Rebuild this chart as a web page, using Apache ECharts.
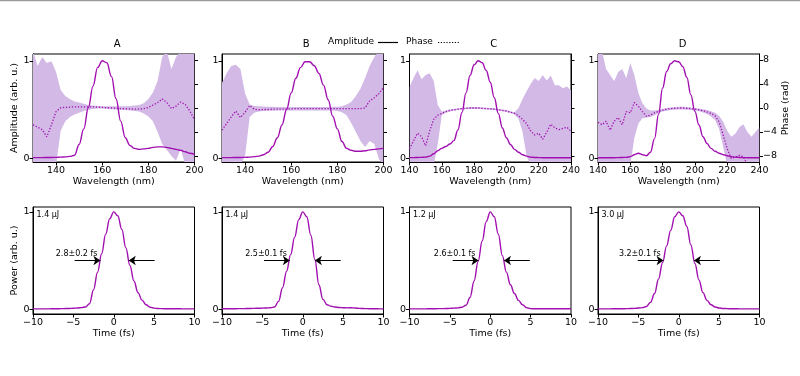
<!DOCTYPE html>
<html>
<head>
<meta charset="utf-8">
<script src="https://cdn.jsdelivr.net/npm/echarts@6/dist/echarts.min.js"></script>
<style>
  html, body { margin: 0; background: #fff; }
  #chart { width: 800px; height: 376px; }
</style>
</head>
<body>
<div id="chart"></div>
<script>
// panel names and annotation texts
const panelNames = ['A', 'B', 'C', 'D'];
const energyText = ['1.4 μJ', '1.4 μJ', '1.2 μJ', '3.0 μJ'];
const fwhmText = ['2.8±0.2 fs', '2.5±0.1 fs', '2.6±0.1 fs', '3.2±0.1 fs'];
// FWHM arrow tips (fs) and arrow length
const fwhmLeft = [-1.65, -1.6, -1.45, -1.88];
const fwhmRight = [1.86, 1.5, 1.7, 1.88];
const arrowLen = 3.2;

// tick labels
const wlTicksAB = [140, 160, 180, 200];
const wlTicksCD = [140, 160, 180, 200, 220, 240];
const ampTicks = [0, 1];
const phaseTicks = [-8, -4, 0, 4, 8];
const timeTicks = [-10, -5, 0, 5, 10];

// wavelength grids (nm)
const wlAB = [130, 132, 134, 136, 138, 140, 142, 144, 146, 148, 150, 152, 154, 156, 158, 160, 162, 164, 166, 168,
  170, 172, 174, 176, 178, 180, 182, 184, 186, 188, 190, 192, 194, 196, 198, 200];
const wlCD = [140, 142.5, 145, 147.5, 150, 152.5, 155, 157.5, 160, 162.5, 165, 167.5, 170, 172.5, 175, 177.5, 180,
  182.5, 185, 187.5, 190, 192.5, 195, 197.5, 200, 202.5, 205, 207.5, 210, 212.5, 215, 217.5, 220, 222.5, 225, 227.5,
  230, 232.5, 235, 237.5, 240];

// spectral amplitude
const ampA = [0.005, 0.005, 0.005, 0.006, 0.007, 0.008, 0.01, 0.013, 0.018, 0.03, 0.14, 0.3, 0.52, 0.74, 0.93, 1.0,
  0.98, 0.84, 0.61, 0.38, 0.21, 0.13, 0.1, 0.09, 0.095, 0.1, 0.11, 0.115, 0.115, 0.11, 0.1, 0.09, 0.08, 0.065, 0.05, 0.04];
const ampB = [0.005, 0.005, 0.005, 0.006, 0.007, 0.008, 0.01, 0.015, 0.02, 0.035, 0.06, 0.12, 0.21, 0.34, 0.5, 0.67,
  0.82, 0.93, 0.99, 0.99, 0.95, 0.87, 0.75, 0.6, 0.43, 0.3, 0.17, 0.1, 0.08, 0.07, 0.07, 0.075, 0.085, 0.09, 0.095, 0.1];
const ampC = [0.005, 0.005, 0.006, 0.008, 0.01, 0.02, 0.045, 0.075, 0.1, 0.12, 0.145, 0.18, 0.29, 0.47, 0.67, 0.85,
  0.96, 1.0, 0.98, 0.9, 0.78, 0.62, 0.46, 0.31, 0.21, 0.14, 0.09, 0.06, 0.035, 0.02, 0.01, 0.007, 0.005, 0.004, 0.004,
  0.003, 0.003, 0.003, 0.003, 0.003, 0.003];
const ampD = [0.003, 0.003, 0.003, 0.003, 0.004, 0.005, 0.006, 0.008, 0.015, 0.035, 0.05, 0.035, 0.025, 0.06, 0.2,
  0.45, 0.72, 0.89, 0.97, 1.0, 0.99, 0.94, 0.83, 0.65, 0.48, 0.34, 0.22, 0.15, 0.1, 0.07, 0.05, 0.035, 0.025, 0.015,
  0.01, 0.007, 0.005, 0.004, 0.004, 0.004, 0.004];

// spectral phase (rad)
const phaseA = [-2.8, -3.2, -3.6, -4.8, -2.8, -0.6, 0.05, 0.1, 0.15, 0.2, 0.2, 0.2, 0.2, 0.2, 0.15, 0.1, 0.05, 0.0,
  -0.05, -0.1, -0.15, -0.15, -0.2, -0.2, -0.1, 0.1, 0.5, 0.9, 1.5, 0.9, -0.1, 0.3, 1.0, 0.6, -0.5, -2.0];
const phaseB = [-3.7, -2.6, -1.5, -0.5, -1.6, -0.7, 0.4, -0.2, -0.3, -0.25, -0.25, -0.2, -0.2, -0.2, -0.15, -0.15,
  -0.1, -0.1, -0.1, -0.1, -0.1, -0.1, -0.1, -0.1, -0.1, -0.1, -0.1, -0.1, -0.1, -0.1, -0.1, 0.0, 1.2, 1.7, 2.4, 3.4];
const phaseC = [-6.8, -5.5, -4.2, -4.8, -6.3, -3.8, -1.9, -1.2, -0.9, -0.6, -0.4, -0.3, -0.2, -0.1, -0.05, 0.0, 0.0,
  0.0, -0.05, -0.1, -0.15, -0.2, -0.3, -0.4, -0.5, -0.7, -0.9, -1.3, -1.9, -2.6, -3.8, -4.5, -4.2, -5.2, -4.0, -2.7,
  -3.3, -3.6, -3.4, -3.2, -3.9];
const phaseD = [-2.4, -2.8, -2.2, -3.7, -2.2, -1.6, -2.8, -0.6, -0.8, 0.9, 0.3, -0.6, -1.4, -1.2, -0.8, -0.55, -0.35,
  -0.2, -0.1, -0.05, 0.0, 0.0, -0.05, -0.1, -0.2, -0.3, -0.45, -0.65, -0.9, -1.3, -2.3, -4.5, -6.8, -8.4, -8.2, -7.9,
  -8.1, -9.5, -9.5, -9.5, -9.5];

// phase uncertainty band, upper and lower edge (rad)
const phaseHiA = [9.5, 7.0, 8.5, 7.5, 7.8, 6.0, 3.0, 2.0, 1.5, 1.1, 0.9, 0.7, 0.5, 0.4, 0.35, 0.3, 0.3, 0.3, 0.3, 0.3,
  0.3, 0.35, 0.4, 0.5, 0.8, 1.5, 2.6, 4.5, 8.5, 9.5, 6.5, 8.5, 9.5, 9.5, 9.5, 9.5];
const phaseLoA = [-9.5, -9.5, -9.5, -9.5, -9.5, -9.5, -3.8, -2.2, -1.5, -1.1, -0.8, -0.5, -0.3, -0.15, -0.1, -0.1,
  -0.15, -0.2, -0.25, -0.3, -0.35, -0.4, -0.5, -0.6, -0.9, -1.4, -2.2, -4.0, -6.0, -7.0, -8.0, -8.8, -6.8, -9.5, -9.5, -9.5];
const phaseHiB = [4.2, 5.8, 7.0, 7.2, 6.5, 2.4, 0.6, 0.35, 0.3, 0.25, 0.2, 0.2, 0.15, 0.15, 0.15, 0.15, 0.15, 0.15,
  0.15, 0.15, 0.15, 0.15, 0.15, 0.15, 0.2, 0.2, 0.3, 0.6, 1.0, 2.0, 3.2, 5.0, 7.0, 8.5, 9.5, 9.5];
const phaseLoB = [-9.5, -9.5, -9.5, -9.5, -9.5, -8.0, -1.5, -0.8, -0.6, -0.5, -0.45, -0.45, -0.4, -0.4, -0.4, -0.4,
  -0.4, -0.4, -0.4, -0.4, -0.4, -0.4, -0.4, -0.4, -0.4, -0.5, -0.7, -1.2, -2.5, -4.0, -5.5, -6.5, -5.5, -6.0, -8.5, -9.5];
const phaseHiC = [3.5, 5.0, 6.3, 4.8, 5.5, 5.8, 4.5, 0.5, -0.6, -0.4, -0.25, -0.15, -0.05, 0.05, 0.1, 0.15, 0.15,
  0.15, 0.1, 0.05, 0.0, -0.05, -0.15, -0.25, -0.35, -0.55, -0.7, 0.0, 1.5, 2.8, 4.0, 5.0, 4.5, 5.5, 4.6, 5.4, 3.8, 3.8,
  3.3, 3.6, 2.9];
const phaseLoC = [-9.5, -9.5, -9.5, -9.5, -9.5, -9.5, -9.5, -6.0, -1.2, -0.8, -0.6, -0.45, -0.35, -0.25, -0.2, -0.15,
  -0.15, -0.15, -0.2, -0.25, -0.3, -0.35, -0.45, -0.55, -0.65, -0.85, -1.1, -1.8, -4.0, -8.0, -9.5, -9.5, -9.5, -9.5,
  -9.5, -9.5, -9.5, -9.5, -9.5, -9.5, -9.5];
const phaseHiD = [9.5, 9.5, 6.5, 5.5, 4.5, 6.0, 6.5, 5.0, 7.5, 5.5, 2.5, 0.8, -0.1, -0.4, -0.4, -0.3, -0.15, 0.0, 0.1,
  0.15, 0.2, 0.2, 0.15, 0.1, 0.0, -0.1, -0.2, -0.35, -0.55, -0.8, -1.3, -2.3, -3.8, -4.8, -4.3, -3.2, -2.7, -4.0, -4.8,
  -4.0, -3.2];
const phaseLoD = [-9.5, -9.5, -9.5, -9.5, -9.5, -9.5, -9.5, -9.5, -9.5, -5.0, -2.6, -1.7, -1.6, -1.5, -1.2, -0.85,
  -0.6, -0.45, -0.35, -0.3, -0.25, -0.25, -0.3, -0.35, -0.45, -0.55, -0.75, -1.0, -1.4, -2.0, -3.5, -6.5, -9.5, -9.5,
  -9.5, -9.5, -9.5, -9.5, -9.5, -9.5, -9.5];

// temporal power profiles
const time = [-10, -9.5, -9, -8.5, -8, -7.5, -7, -6.5, -6, -5.5, -5, -4.5, -4, -3.5, -3, -2.5, -2, -1.5, -1, -0.5, 0,
  0.5, 1, 1.5, 2, 2.5, 3, 3.5, 4, 4.5, 5, 5.5, 6, 6.5, 7, 7.5, 8, 8.5, 9, 9.5, 10];
const powerA = [0.003, 0.003, 0.003, 0.003, 0.003, 0.004, 0.004, 0.005, 0.006, 0.007, 0.009, 0.012, 0.016, 0.022,
  0.055, 0.2, 0.38, 0.57, 0.77, 0.93, 1.0, 0.96, 0.82, 0.63, 0.45, 0.29, 0.17, 0.093, 0.045, 0.02, 0.01, 0.006, 0.005,
  0.004, 0.004, 0.004, 0.004, 0.003, 0.003, 0.003, 0.003];
const powerB = [0.004, 0.004, 0.004, 0.004, 0.005, 0.005, 0.006, 0.007, 0.008, 0.009, 0.01, 0.012, 0.015, 0.022,
  0.08, 0.22, 0.39, 0.56, 0.74, 0.92, 1.0, 0.95, 0.76, 0.51, 0.25, 0.1, 0.045, 0.03, 0.022, 0.017, 0.014, 0.013, 0.014,
  0.011, 0.008, 0.006, 0.005, 0.004, 0.004, 0.003, 0.003];
const powerC = [0.003, 0.003, 0.003, 0.003, 0.003, 0.004, 0.004, 0.005, 0.005, 0.006, 0.008, 0.01, 0.013, 0.02,
  0.04, 0.12, 0.29, 0.49, 0.7, 0.9, 1.0, 0.95, 0.77, 0.55, 0.38, 0.25, 0.16, 0.09, 0.045, 0.015, 0.005, 0.004, 0.004,
  0.004, 0.004, 0.004, 0.004, 0.004, 0.004, 0.004, 0.004];
const powerD = [0.003, 0.003, 0.003, 0.003, 0.004, 0.004, 0.004, 0.005, 0.006, 0.008, 0.011, 0.016, 0.027, 0.07,
  0.16, 0.31, 0.48, 0.65, 0.81, 0.95, 1.0, 0.96, 0.85, 0.66, 0.47, 0.3, 0.17, 0.09, 0.045, 0.022, 0.012, 0.007, 0.005,
  0.004, 0.004, 0.003, 0.003, 0.003, 0.003, 0.003, 0.003];

const wl = [wlAB, wlAB, wlCD, wlCD];
const wlRange = [[130, 200], [130, 200], [140, 240], [140, 240]];
const wlTicks = [wlTicksAB, wlTicksAB, wlTicksCD, wlTicksCD];
const amp = [ampA, ampB, ampC, ampD];
const phase = [phaseA, phaseB, phaseC, phaseD];
const phaseHi = [phaseHiA, phaseHiB, phaseHiC, phaseHiD];
const phaseLo = [phaseLoA, phaseLoB, phaseLoC, phaseLoD];
const power = [powerA, powerB, powerC, powerD];

const LINE = '#a10fb0';
const FILL = '#d3bae6';
const FONT = 'DejaVu Sans';
const lefts = [33, 222, 409.5, 598];
const W = 161.5;
const TOP1 = 54, H1 = 108, TOP2 = 207, H2 = 107;

const pairs = (xs, ys) => xs.map((x, i) => [x, ys[i]]);
const minus = v => String(v).replace('-', '\u2212');

function axis(o) {
  return {
    type: 'value',
    axisLine: { show: true, onZero: false, lineStyle: { color: '#000', width: 1 } },
    axisTick: Object.assign({ show: true, length: 3.5, lineStyle: { color: '#000', width: 1 } }, o.tick || {}),
    axisLabel: Object.assign({ color: '#000', fontSize: 9.5, fontFamily: FONT, margin: 3.5, formatter: minus }, o.label || {}),
    splitLine: { show: false },
    nameTextStyle: { color: '#000', fontSize: 9.5, fontFamily: FONT },
    ...o.rest
  };
}

// filled band between lower and upper phase edge, one polygon per panel
function bandRenderer(i) {
  return function (params, api) {
    if (params.dataIndex !== 0) return null;
    const xs = wl[i], hi = phaseHi[i], lo = phaseLo[i];
    const pts = [];
    for (let k = 0; k < xs.length; k++) pts.push(api.coord([xs[k], hi[k]]));
    for (let k = xs.length - 1; k >= 0; k--) pts.push(api.coord([xs[k], lo[k]]));
    const cs = params.coordSys;
    return {
      type: 'group',
      clipPath: { type: 'rect', shape: { x: cs.x, y: cs.y, width: cs.width, height: cs.height } },
      children: [{ type: 'polygon', shape: { points: pts }, style: { fill: FILL } }]
    };
  };
}

const grid = [], xAxis = [], yAxis = [], series = [], graphic = [];

for (let i = 0; i < 4; i++) {
  grid.push({ left: lefts[i], top: TOP1, width: W, height: H1, show: true, borderColor: '#000', borderWidth: 1 });
}
for (let i = 0; i < 4; i++) {
  grid.push({ left: lefts[i], top: TOP2, width: W, height: H2, show: true, borderColor: '#000', borderWidth: 1 });
}

// top row: wavelength axes
for (let i = 0; i < 4; i++) {
  xAxis.push(axis({
    tick: { customValues: wlTicks[i] },
    label: { customValues: wlTicks[i] },
    rest: { gridIndex: i, min: wlRange[i][0], max: wlRange[i][1], name: 'Wavelength (nm)', nameLocation: 'middle', nameGap: 15 }
  }));
}
// bottom row: time axes
for (let i = 0; i < 4; i++) {
  xAxis.push(axis({
    tick: { customValues: timeTicks },
    label: { customValues: timeTicks },
    rest: { gridIndex: 4 + i, min: -10, max: 10, interval: 5, name: 'Time (fs)', nameLocation: 'middle', nameGap: 15 }
  }));
}
// amplitude axes (0-3)
for (let i = 0; i < 4; i++) {
  yAxis.push(axis({
    tick: { customValues: ampTicks },
    label: { customValues: ampTicks },
    rest: { gridIndex: i, min: -0.04, max: 1.07, name: i === 0 ? 'Amplitude (arb. u.)' : '', nameLocation: 'middle', nameGap: 12 }
  }));
}
// phase axes (4-7)
for (let i = 0; i < 4; i++) {
  yAxis.push(axis({
    tick: { customValues: phaseTicks },
    label: { customValues: phaseTicks, show: i === 3 },
    rest: { gridIndex: i, position: 'right', min: -9, max: 9, name: i === 3 ? 'Phase (rad)' : '', nameLocation: 'middle', nameGap: 21 }
  }));
}
// power axes (8-11)
for (let i = 0; i < 4; i++) {
  yAxis.push(axis({
    tick: { customValues: ampTicks },
    label: { customValues: ampTicks },
    rest: { gridIndex: 4 + i, min: -0.05, max: 1.05, name: i === 0 ? 'Power (arb. u.)' : '', nameLocation: 'middle', nameGap: 12 }
  }));
}

for (let i = 0; i < 4; i++) {
  series.push({
    type: 'custom', xAxisIndex: i, yAxisIndex: 4 + i, silent: true, z: 1,
    renderItem: bandRenderer(i),
    encode: { x: 0, y: [1, 2] },
    data: wl[i].map((x, k) => [x, phaseLo[i][k], phaseHi[i][k]])
  });
  series.push({
    type: 'line', name: 'Phase', xAxisIndex: i, yAxisIndex: 4 + i, silent: true, z: 2,
    data: pairs(wl[i], phase[i]), symbol: 'none',
    lineStyle: { color: LINE, width: 1.3, type: [1.3, 1.7] }
  });
  series.push({
    type: 'line', name: 'Amplitude', xAxisIndex: i, yAxisIndex: i, silent: true, z: 3,
    data: pairs(wl[i], amp[i]), symbol: 'none', smooth: 0.4, smoothMonotone: 'x',
    lineStyle: { color: LINE, width: 1.4 }
  });
  series.push({
    type: 'line', xAxisIndex: 4 + i, yAxisIndex: 8 + i, silent: true,
    data: pairs(time, power[i]), symbol: 'none', smooth: 0.4, smoothMonotone: 'x',
    lineStyle: { color: LINE, width: 1.4 },
    markLine: {
      silent: true, animation: false,
      symbol: ['none', 'arrow'], symbolSize: 7,
      lineStyle: { color: '#000', width: 1, type: 'solid' },
      label: { show: false },
      emphasis: { disabled: true },
      data: [
        [{ coord: [fwhmLeft[i] - arrowLen, 0.5],
           label: { show: true, position: 'insideEndTop', distance: 3, formatter: fwhmText[i], color: '#000', fontSize: 8, fontFamily: FONT } },
         { coord: [fwhmLeft[i], 0.5] }],
        [{ coord: [fwhmRight[i] + arrowLen, 0.5] }, { coord: [fwhmRight[i], 0.5] }]
      ]
    }
  });

  graphic.push({
    type: 'text', left: lefts[i] + W / 2, top: 39, silent: true,
    style: { text: panelNames[i], fill: '#000', font: '10px "DejaVu Sans"', textAlign: 'center' }
  });
  graphic.push({
    type: 'text', left: lefts[i] + 3.5, top: TOP2 + 4, silent: true,
    style: { text: energyText[i], fill: '#000', font: '8px "DejaVu Sans"' }
  });
}

// legend and top rule
graphic.push(
  { type: 'line', silent: true, shape: { x1: 0, y1: 0.5, x2: 800, y2: 0.5 }, style: { stroke: '#9a9a9a', lineWidth: 1.5 } },
  { type: 'text', left: 328, top: 37, silent: true, style: { text: 'Amplitude', fill: '#000', font: '9px "DejaVu Sans"' } },
  { type: 'line', silent: true, shape: { x1: 378, y1: 42.5, x2: 398, y2: 42.5 }, style: { stroke: '#000', lineWidth: 1.2 } },
  { type: 'text', left: 406, top: 37, silent: true, style: { text: 'Phase', fill: '#000', font: '9px "DejaVu Sans"' } },
  { type: 'line', silent: true, shape: { x1: 438, y1: 42.5, x2: 460, y2: 42.5 }, style: { stroke: '#000', lineWidth: 1.2, lineDash: [1.2, 1.6] } }
);

const chart = echarts.init(document.getElementById('chart'), null, { renderer: 'canvas' });
chart.setOption({
  animation: false,
  backgroundColor: '#fff',
  textStyle: { fontFamily: FONT },
  grid, xAxis, yAxis, series, graphic
});
</script>
</body>
</html>
